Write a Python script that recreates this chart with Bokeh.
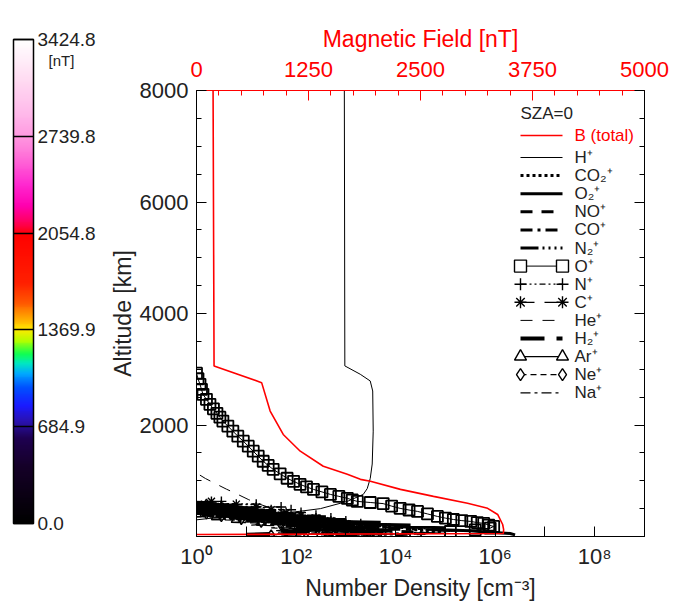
import numpy as np
from bokeh.plotting import figure
from bokeh.models import (Range1d, LinearScale, LinearAxis, SingleIntervalTicker,
                          FixedTicker, CustomJSTickFormatter, LinearColorMapper, ColorBar)
from bokeh.core.properties import value
from bokeh.embed import file_html
from bokeh.resources import INLINE

FONT = "Liberation Sans"

# ---------------- data ----------------
# Magnetic field (total), nT vs altitude km
b_alt = [8000, 3060, 2760, 2250, 1830, 1530, 1260, 1115, 1025, 990, 845, 720, 595, 505, 395, 215, 125, 55, 35]
b_tot = [185, 196, 727, 822, 968, 1158, 1415, 1683, 1829, 1941, 2276, 2645, 3025, 3249, 3361, 3417, 3428, 3424.8, 0]

# H+ (log10 density)
h_alt = [8000, 3060, 2910, 2790, 2610, 1890, 1300, 1040, 860, 755, 630, 500, 430, 380, 325, 270]
h_log = [2.97, 2.98, 3.29, 3.49, 3.54, 3.55, 3.53, 3.49, 3.43, 3.35, 3.03, 2.49, 1.88, 1.08, 0.27, -0.3]

# O+ (log10 density)
o_alt = [2930, 2830, 2730, 2640, 2550, 2460, 2370, 2290, 2210, 2140, 2070, 1980, 1890, 1800, 1710, 1620,
         1530, 1440, 1350, 1275, 1205, 1125, 1045, 990, 935, 890, 845, 800, 755, 720, 685, 655, 630,
         610, 590, 545, 505, 475, 450, 405, 360, 330, 305, 285, 270, 250, 235, 205, 180, 150, 120, 90, 60, 30]
o_log = [0.0, 0.03, 0.07, 0.10, 0.13, 0.20, 0.27, 0.34, 0.41, 0.47, 0.53, 0.63, 0.73, 0.83, 0.94, 1.04,
         1.14, 1.24, 1.34, 1.44, 1.54, 1.68, 1.82, 1.95, 2.08, 2.21, 2.35, 2.52, 2.69, 2.86, 3.03, 3.13, 3.23,
         3.49, 3.75, 3.92, 4.09, 4.27, 4.44, 4.64, 4.84, 5.00, 5.16, 5.33, 5.51, 5.64, 5.77, 5.87, 5.97, 5.90, 5.60, 5.10, 4.40, 3.60]

# low-altitude ion profiles (log10 density, noisy) on a common altitude grid
low_alt = [30, 55, 80, 105, 130, 155, 180, 205, 230, 255, 280, 305, 330, 355, 380, 405, 430, 455, 480, 505,
           530, 555, 580, 605, 630]
co2p_log = [3.4, 4.3, 4.9, 5.0, 4.2, 4.6, 3.3, 3.9, 2.5, 3.2, 1.8, 2.8, 1.2, 2.3, 0.6, 1.9, 0.3, 1.5, -0.2, 1.1, -0.4, 0.6, -0.5, 0.2, -0.6]
o2p_log = [6.4, 6.3, 5.8, 5.5, 4.6, 5.0, 3.8, 4.3, 3.0, 3.7, 2.3, 3.0, 1.7, 2.6, 1.0, 2.0, 0.5, 1.6, 0.1, 1.2, -0.3, 0.8, -0.4, 0.3, -0.5]
nop_log = [4.0, 4.6, 4.4, 3.6, 4.1, 3.0, 3.6, 2.3, 3.0, 1.6, 2.6, 1.1, 2.1, 0.6, 1.7, 0.2, 1.3, -0.2, 0.9, -0.4, 0.5, -0.5, 0.2, -0.6, -0.6]
cop_log = [3.0, 3.8, 3.1, 3.9, 2.9, 3.6, 2.4, 3.2, 1.8, 2.8, 1.3, 2.4, 0.8, 2.0, 0.4, 1.6, 0.0, 1.2, -0.3, 0.8, -0.4, 0.4, -0.5, 0.0, -0.6]
n2p_log = [2.8, 3.6, 3.0, 3.7, 2.6, 3.3, 2.0, 2.9, 1.5, 2.5, 1.0, 2.1, 0.5, 1.7, 0.1, 1.4, -0.2, 1.0, -0.4, 0.7, -0.5, 0.3, -0.6, -0.1, -0.6]
np_log = [2.0, 3.0, 3.5, 2.8, 3.8, 3.1, 3.6, 2.7, 3.3, 2.4, 3.0, 2.0, 2.7, 1.6, 2.4, 1.2, 2.1, 0.8, 1.9, 0.4, 1.7, 0.1, 1.2, -0.2, 0.5]
cp_log = [1.8, 2.7, 3.2, 2.6, 3.5, 2.8, 3.3, 2.3, 3.0, 1.9, 2.7, 1.5, 2.4, 1.1, 2.1, 0.7, 1.8, 0.4, 1.5, 0.1, 1.2, -0.2, 0.8, -0.4, 0.3]
h2p_log = [1.0, 1.8, 2.3, 1.7, 2.6, 1.9, 2.7, 1.8, 2.5, 1.5, 2.3, 1.2, 2.0, 0.8, 1.7, 0.5, 1.4, 0.1, 1.1, -0.2, 0.8, -0.4, 0.4, -0.5, 0.0]
arp_log = [2.5, 3.1, 3.4, 2.7, 3.2, 2.3, 2.9, 1.8, 2.5, 1.3, 2.1, 0.8, 1.7, 0.4, 1.3, 0.0, 0.9, -0.3, 0.6, -0.4, 0.2, -0.5, -0.1, -0.6, -0.6]
nep_log = [1.5, 2.2, 2.6, 2.0, 2.8, 2.1, 2.6, 1.7, 2.3, 1.3, 2.0, 0.9, 1.7, 0.5, 1.4, 0.2, 1.1, -0.1, 0.8, -0.3, 0.5, -0.5, 0.2, -0.6, -0.6]
nap_log = [1.2, 1.9, 2.3, 1.6, 2.4, 1.5, 2.1, 1.1, 1.8, 0.7, 1.5, 0.3, 1.2, 0.0, 0.9, -0.3, 0.6, -0.4, 0.3, -0.5, 0.0, -0.6, -0.3, -0.6, -0.6]

# He+ (log10 density)
he_alt = [30, 90, 150, 210, 300, 390, 480, 575, 660, 755, 850, 953, 1040, 1133, 1230]
he_log = [1.2, 1.8, 2.2, 2.4, 2.3, 2.0, 1.6, 1.28, 1.05, 0.83, 0.6, 0.37, 0.18, 0.01, -0.15]

# colour bar
cbar_ticks = [0.0, 684.9, 1369.9, 2054.8, 2739.8, 3424.8]
cbar_tick_labels = ["0.0", "684.9", "1369.9", "2054.8", "2739.8", "3424.8"]
cbar_unit = "[nT]"
cbar_stop_vals = [0, 400, 600, 720, 830, 960, 1060, 1130, 1200, 1290, 1370, 1450, 1560, 1700, 2050,
                  2110, 2250, 2400, 2600, 2740, 2900, 3150, 3424.8]
cbar_stop_cols = ["#000000", "#150028", "#1e0050", "#2a12b0", "#1a1aff", "#0050ff", "#00a8ff", "#00e8c0",
                  "#10ff50", "#b0ff00", "#ffe800", "#ffa800", "#ff5800", "#ff2000", "#ff0000",
                  "#ff0048", "#ff00b0", "#ff28d0", "#ff70d8", "#ff98e0", "#ffb8ea", "#ffdcf2", "#ffffff"]

bottom_ticks = [1e0, 1e1, 1e2, 1e3, 1e4, 1e5, 1e6, 1e7, 1e8, 1e9]

# ---------------- styles ----------------
# (label, alt array, log array, dash, width, marker)
species = [
    ("H\u207a", h_alt, h_log, "solid", 1, None),
    ("CO\u2082\u207a", low_alt, co2p_log, "3 3", 3, None),
    ("O\u2082\u207a", low_alt, o2p_log, "solid", 3, None),
    ("NO\u207a", low_alt, nop_log, "12 9", 3, None),
    ("CO\u207a", low_alt, cop_log, "12 5 3 5", 3, None),
    ("N\u2082\u207a", low_alt, n2p_log, "18 4 2 4 2 4 2 4", 3, None),
    ("O\u207a", o_alt, o_log, "solid", 1, "square"),
    ("N\u207a", low_alt, np_log, "6 3 2 3 2 3", 1.3, "cross"),
    ("C\u207a", low_alt, cp_log, "14 10", 1.3, "asterisk"),
    ("He\u207a", he_alt, he_log, "12 10", 1, None),
    ("H\u2082\u207a", low_alt, h2p_log, "24 12", 4, None),
    ("Ar\u207a", low_alt, arp_log, "solid", 1.3, "triangle"),
    ("Ne\u207a", low_alt, nep_log, "6 4", 1.3, "diamond"),
    ("Na\u207a", low_alt, nap_log, "10 4 3 4", 1.3, None),
]

# ---------------- main figure ----------------
FL, FT = 196, 90          # frame left / top in page pixels
FW, FH = 448, 446
W, H = 681, 604
p = figure(x_axis_type="log", x_range=Range1d(1, 1e9), y_range=Range1d(0, 8000),
           width=W, height=H,
           min_border_left=FL, min_border_right=W - FL - FW, min_border_top=FT,
           min_border_bottom=H - FT - FH,
           output_backend="svg", toolbar_location=None)
p.outline_line_color = None
p.grid.visible = False
p.background_fill_color = "white"
p.border_fill_color = "white"

p.extra_x_ranges = {"B": Range1d(0, 5000), "leg": Range1d(0, FW)}
p.extra_x_scales = {"B": LinearScale(), "leg": LinearScale()}
p.extra_y_ranges = {"leg": Range1d(FH, 0)}
p.extra_y_scales = {"leg": LinearScale()}

# bottom axis
xa = p.xaxis[0]
xa.ticker = FixedTicker(ticks=bottom_ticks, minor_ticks=[])
xa.formatter = CustomJSTickFormatter(code="""
const sup = {0:"\u2070",2:"\u00b2",4:"\u2074",6:"\u2076",8:"\u2078"};
const e = Math.round(Math.log10(tick));
return (e % 2 === 0) ? "10" + sup[e] : "";
""")
xa.axis_label = "Number Density [cm\u207b\u00b3]"

# left axis
ya = p.yaxis[0]
ya.ticker = SingleIntervalTicker(interval=2000, num_minor_ticks=4)
ya.major_label_overrides = {0: ""}
ya.axis_label = "Altitude [km]"

for ax in (xa, ya):
    ax.major_tick_in = 10
    ax.major_tick_out = 0
    ax.minor_tick_in = 5
    ax.minor_tick_out = 0
    ax.axis_line_color = "black"
    ax.major_label_text_font = FONT
    ax.major_label_text_font_size = "22px"
    ax.major_label_text_color = "#222222"
    ax.axis_label_text_font = FONT
    ax.axis_label_text_font_size = "23px"
    ax.axis_label_text_font_style = "normal"
    ax.axis_label_text_color = "#222222"
xa.major_label_standoff = 7
xa.axis_label_standoff = 3
ya.major_label_standoff = 8
ya.axis_label_standoff = 1

# right axis (ticks only)
ra = LinearAxis(ticker=SingleIntervalTicker(interval=2000, num_minor_ticks=4),
                formatter=CustomJSTickFormatter(code="return '';"),
                major_tick_in=10, major_tick_out=0,
                minor_tick_in=5, minor_tick_out=0, axis_line_color="black")
p.add_layout(ra, "right")

# top axis (magnetic field)
ta = LinearAxis(x_range_name="B", ticker=SingleIntervalTicker(interval=1250, num_minor_ticks=5),
                axis_label="Magnetic Field [nT]",
                axis_line_color="red", major_tick_line_color="red", minor_tick_line_color="red",
                major_tick_in=10, major_tick_out=0, minor_tick_in=5, minor_tick_out=0,
                major_label_text_color="red", major_label_text_font=FONT, major_label_text_font_size="22px",
                axis_label_text_color="red", axis_label_text_font=FONT, axis_label_text_font_size="23px",
                axis_label_text_font_style="normal", major_label_standoff=14, axis_label_standoff=7)
p.add_layout(ta, "above")

# species curves
for label, alts, logs, dash, lw, marker in species:
    dens = [10.0 ** v for v in logs]
    p.line(dens, alts, line_color="black", line_width=lw, line_dash=dash)
    if marker is not None:
        big = marker == "square"
        p.scatter(dens, alts, marker=marker, size=11 if big else 10, line_color="black",
                  line_width=1.8 if big else 1.4, fill_color=None)

# magnetic field
p.line(b_tot, b_alt, x_range_name="B", line_color="red", line_width=1.6)

# ---------------- legend (frame-pixel coordinates) ----------------
LX0, LX1, TX = 324, 366, 378
p.text([LX0], [23], text=["SZA=0"], x_range_name="leg", y_range_name="leg",
       text_font=value(FONT), text_font_size="17px", text_baseline="middle", text_color="#222222")
p.line([LX0, LX1], [45, 45], x_range_name="leg", y_range_name="leg", line_color="red", line_width=1.5)
p.text([TX], [45], text=["B (total)"], x_range_name="leg", y_range_name="leg",
       text_font=value(FONT), text_font_size="17px", text_baseline="middle", text_color="red")
for i, (label, alts, logs, dash, lw, marker) in enumerate(species):
    yy = 67 + 18.1 * i
    p.line([LX0, LX1], [yy, yy], x_range_name="leg", y_range_name="leg",
           line_color="black", line_width=lw, line_dash=dash)
    if marker is not None:
        p.scatter([LX0, LX1], [yy, yy], x_range_name="leg", y_range_name="leg", marker=marker,
                  size=12, line_color="black", line_width=1.4, fill_color="white")
    p.text([TX], [yy], text=[label], x_range_name="leg", y_range_name="leg",
           text_font=value(FONT), text_font_size="17px", text_baseline="middle", text_color="#222222")

# ---------------- colour bar ----------------
CB_L, CB_W, CB_TOP, CB_BOT = 13, 20, 39, 523
vmax = cbar_ticks[-1]

def _rgb(h):
    return [int(h[i:i + 2], 16) for i in (1, 3, 5)]
stops = np.array([_rgb(c) for c in cbar_stop_cols], dtype=float)
lv = np.linspace(0, vmax, 256)
palette = ["#%02x%02x%02x" % tuple(int(round(np.interp(v, cbar_stop_vals, stops[:, j]))) for j in range(3))
           for v in lv]
mapper = LinearColorMapper(palette=palette, low=0, high=vmax)
cbar = ColorBar(color_mapper=mapper, orientation="vertical", width=CB_W, height=CB_BOT - CB_TOP,
                location=(CB_L - FL, (FT + FH) - CB_BOT), padding=0, margin=0,
                ticker=FixedTicker(ticks=cbar_ticks, minor_ticks=[]),
                major_label_overrides={t: s for t, s in zip(cbar_ticks, cbar_tick_labels)},
                major_label_text_font=FONT, major_label_text_font_size="19px",
                major_label_text_color="#222222", label_standoff=4,
                major_tick_in=CB_W, major_tick_out=0, major_tick_line_color="black",
                major_tick_line_width=1.3, minor_tick_line_color=None,
                bar_line_color="black", bar_line_width=1.5,
                border_line_color=None, background_fill_color=None)
p.add_layout(cbar, "center")

# unit label under the top value: an invisible twin bar whose single tick label is "[nT]"
unit_pos = vmax - 21 * vmax / (CB_BOT - CB_TOP)
unit_bar = ColorBar(color_mapper=mapper, orientation="vertical", width=1, height=CB_BOT - CB_TOP,
                    location=(43 - FL, (FT + FH) - CB_BOT), padding=0, margin=0, scale_alpha=0,
                    ticker=FixedTicker(ticks=[unit_pos], minor_ticks=[]),
                    major_label_overrides={unit_pos: cbar_unit},
                    major_label_text_font=FONT, major_label_text_font_size="15px",
                    major_label_text_color="#222222", label_standoff=4,
                    major_tick_line_color=None, minor_tick_line_color=None,
                    bar_line_color=None, border_line_color=None, background_fill_color=None)
p.add_layout(unit_bar, "center")

open("out.html", "w").write(file_html(p, INLINE))
